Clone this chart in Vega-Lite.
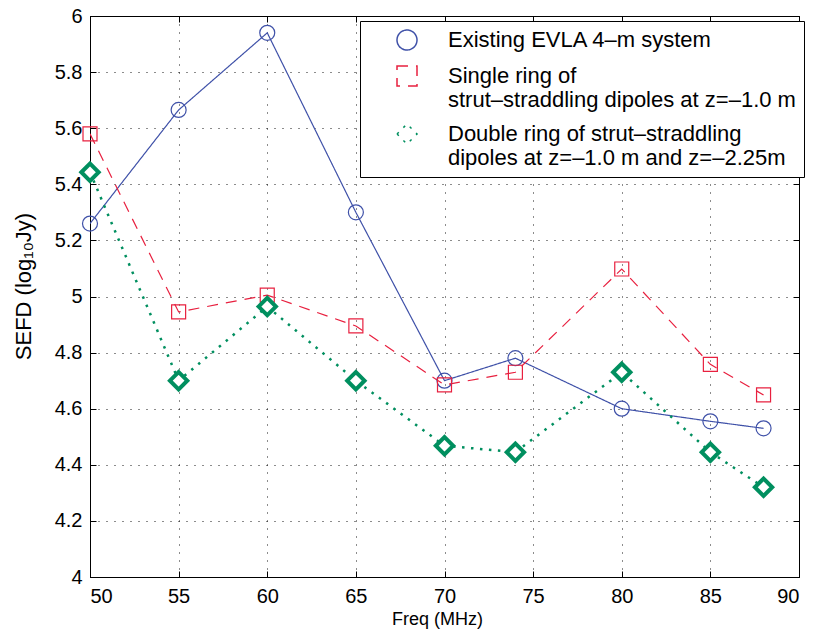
{
  "$schema": "https://vega.github.io/schema/vega-lite/v6.json",
  "autosize": {"type": "none"},
  "padding": {"left": 90, "top": 16, "right": 15, "bottom": 55},
  "width": 709,
  "height": 561,
  "background": "white",
  "config": {
    "font": "Liberation Sans",
    "view": {"stroke": "black", "strokeWidth": 1},
    "axis": {
      "labelFont": "Liberation Sans",
      "labelFontSize": 20,
      "labelColor": "black",
      "titleFont": "Liberation Sans",
      "titleFontWeight": "normal",
      "titleColor": "black",
      "domainColor": "black",
      "tickColor": "black",
      "gridColor": "black",
      "gridDash": [1, 7],
      "gridWidth": 1,
      "gridOpacity": 0.9
    },
    "legend": {
      "labelFont": "Liberation Sans",
      "labelFontSize": 22,
      "labelColor": "black",
      "labelLimit": 0
    }
  },
  "data": {
    "values": [
      {"series": "Existing EVLA 4–m system", "freq": 50, "sefd": 5.26},
      {"series": "Existing EVLA 4–m system", "freq": 55, "sefd": 5.665},
      {"series": "Existing EVLA 4–m system", "freq": 60, "sefd": 5.94},
      {"series": "Existing EVLA 4–m system", "freq": 65, "sefd": 5.30},
      {"series": "Existing EVLA 4–m system", "freq": 70, "sefd": 4.70},
      {"series": "Existing EVLA 4–m system", "freq": 74, "sefd": 4.78},
      {"series": "Existing EVLA 4–m system", "freq": 80, "sefd": 4.60},
      {"series": "Existing EVLA 4–m system", "freq": 85, "sefd": 4.555},
      {"series": "Existing EVLA 4–m system", "freq": 88, "sefd": 4.53},
      {"series": "Single ring of strut–straddling dipoles at z=–1.0 m", "freq": 50, "sefd": 5.58},
      {"series": "Single ring of strut–straddling dipoles at z=–1.0 m", "freq": 55, "sefd": 4.945},
      {"series": "Single ring of strut–straddling dipoles at z=–1.0 m", "freq": 60, "sefd": 5.005},
      {"series": "Single ring of strut–straddling dipoles at z=–1.0 m", "freq": 65, "sefd": 4.895},
      {"series": "Single ring of strut–straddling dipoles at z=–1.0 m", "freq": 70, "sefd": 4.685},
      {"series": "Single ring of strut–straddling dipoles at z=–1.0 m", "freq": 74, "sefd": 4.73},
      {"series": "Single ring of strut–straddling dipoles at z=–1.0 m", "freq": 80, "sefd": 5.098},
      {"series": "Single ring of strut–straddling dipoles at z=–1.0 m", "freq": 85, "sefd": 4.758},
      {"series": "Single ring of strut–straddling dipoles at z=–1.0 m", "freq": 88, "sefd": 4.649},
      {"series": "Double ring of strut–straddling dipoles at z=–1.0 m and z=–2.25m", "freq": 50, "sefd": 5.443},
      {"series": "Double ring of strut–straddling dipoles at z=–1.0 m and z=–2.25m", "freq": 55, "sefd": 4.70},
      {"series": "Double ring of strut–straddling dipoles at z=–1.0 m and z=–2.25m", "freq": 60, "sefd": 4.964},
      {"series": "Double ring of strut–straddling dipoles at z=–1.0 m and z=–2.25m", "freq": 65, "sefd": 4.70},
      {"series": "Double ring of strut–straddling dipoles at z=–1.0 m and z=–2.25m", "freq": 70, "sefd": 4.468},
      {"series": "Double ring of strut–straddling dipoles at z=–1.0 m and z=–2.25m", "freq": 74, "sefd": 4.445},
      {"series": "Double ring of strut–straddling dipoles at z=–1.0 m and z=–2.25m", "freq": 80, "sefd": 4.73},
      {"series": "Double ring of strut–straddling dipoles at z=–1.0 m and z=–2.25m", "freq": 85, "sefd": 4.445},
      {"series": "Double ring of strut–straddling dipoles at z=–1.0 m and z=–2.25m", "freq": 88, "sefd": 4.32}
    ]
  },
  "resolve": {"axis": {"x": "independent", "y": "independent"}},
  "layer": [
    {
      "mark": {"type": "line", "clip": true},
      "encoding": {
        "x": {
          "field": "freq", "type": "quantitative",
          "scale": {"domain": [50, 90], "nice": false, "zero": false},
          "axis": {"orient": "bottom", "values": [50, 55, 60, 65, 70, 75, 80, 85, 90], "title": "Freq (MHz)", "titleFontSize": 18, "titlePadding": 4, "titleX": 347, "tickSize": -6, "labelPadding": 15, "grid": true}
        },
        "y": {
          "field": "sefd", "type": "quantitative",
          "scale": {"domain": [4, 6], "nice": false, "zero": false},
          "axis": {"orient": "left", "values": [4, 4.2, 4.4, 4.6, 4.8, 5, 5.2, 5.4, 5.6, 5.8, 6], "labelExpr": "format(datum.value, '.2~f')", "title": "SEFD (log₁₀Jy)", "titleFontSize": 22, "titlePadding": 19, "titleY": 270, "tickSize": -6, "labelPadding": 14, "grid": true}
        },
        "color": {
          "field": "series", "type": "nominal",
          "scale": {"domain": ["Existing EVLA 4–m system", "Single ring of strut–straddling dipoles at z=–1.0 m", "Double ring of strut–straddling dipoles at z=–1.0 m and z=–2.25m"], "range": ["#3f51a8", "#e8203f", "#008f5f"]},
          "legend": {
            "orient": "none",
            "legendX": 270,
            "legendY": 5,
            "title": null,
            "strokeColor": "black",
            "fillColor": "white",
            "padding": 8,
            "symbolSize": 400,
            "symbolOffset": 28,
            "labelOffset": 30,
            "rowPadding": 10,
            "labelExpr": "datum.label == 'Single ring of strut–straddling dipoles at z=–1.0 m' ? ['Single ring of', 'strut–straddling dipoles at z=–1.0 m'] : datum.label == 'Double ring of strut–straddling dipoles at z=–1.0 m and z=–2.25m' ? ['Double ring of strut–straddling', 'dipoles at z=–1.0 m and z=–2.25m'] : datum.label"
          }
        },
        "strokeDash": {
          "field": "series", "type": "nominal",
          "scale": {"domain": ["Existing EVLA 4–m system", "Single ring of strut–straddling dipoles at z=–1.0 m", "Double ring of strut–straddling dipoles at z=–1.0 m and z=–2.25m"], "range": [[1, 0], [11, 8], [2.5, 6.5]]},
          "legend": null
        },
        "strokeWidth": {
          "condition": {"test": "datum.series == 'Double ring of strut–straddling dipoles at z=–1.0 m and z=–2.25m'", "value": 2.5},
          "value": 1.2
        }
      }
    },
    {
      "mark": {"type": "point", "filled": false, "clip": false, "opacity": 1},
      "encoding": {
        "x": {"field": "freq", "type": "quantitative", "axis": {"orient": "top", "values": [50, 55, 60, 65, 70, 75, 80, 85, 90], "labels": false, "title": null, "tickSize": -6, "grid": false, "domain": false}},
        "y": {"field": "sefd", "type": "quantitative", "axis": {"orient": "right", "values": [4, 4.2, 4.4, 4.6, 4.8, 5, 5.2, 5.4, 5.6, 5.8, 6], "labels": false, "title": null, "tickSize": -6, "grid": false, "domain": false}},
        "color": {"field": "series", "type": "nominal"},
        "shape": {
          "field": "series", "type": "nominal",
          "scale": {"domain": ["Existing EVLA 4–m system", "Single ring of strut–straddling dipoles at z=–1.0 m", "Double ring of strut–straddling dipoles at z=–1.0 m and z=–2.25m"], "range": ["circle", "square", "diamond"]},
          "legend": null
        },
        "size": {
          "condition": [
            {"test": "datum.series == 'Double ring of strut–straddling dipoles at z=–1.0 m and z=–2.25m'", "value": 300},
            {"test": "datum.series == 'Existing EVLA 4–m system'", "value": 225}
          ],
          "value": 196
        },
        "fill": {
          "condition": {"test": "datum.series == 'Double ring of strut–straddling dipoles at z=–1.0 m and z=–2.25m'", "value": "white"},
          "value": "transparent"
        },
        "strokeWidth": {
          "condition": {"test": "datum.series == 'Double ring of strut–straddling dipoles at z=–1.0 m and z=–2.25m'", "value": 4},
          "value": 1.2
        }
      }
    }
  ]
}
